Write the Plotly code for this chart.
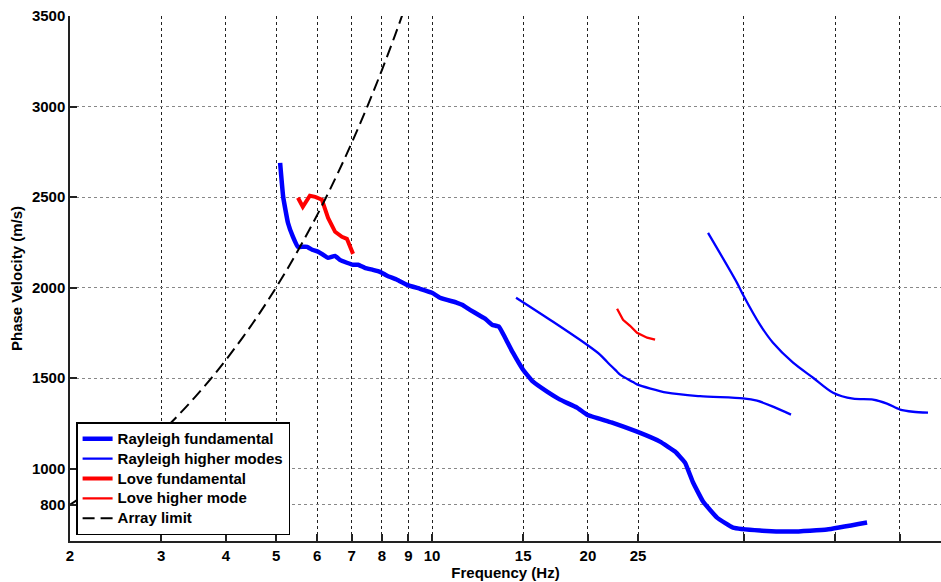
import plotly.graph_objects as go

# Rayleigh fundamental mode (Hz, m/s)
ray_fund_f = [5.09, 5.16, 5.27, 5.39, 5.51, 5.63, 5.74, 5.87, 6.03, 6.16, 6.30, 6.50,
              6.64, 6.85, 7.04, 7.20, 7.42, 7.69, 7.94, 8.19, 8.56, 8.95, 9.48, 10.0,
              10.36, 11.18, 11.43, 11.84, 12.38, 12.66, 13.06, 13.47, 13.84, 14.33,
              14.99, 15.67, 16.68, 17.67, 19.05, 19.92, 22.20, 24.88, 27.56, 29.46,
              30.80, 31.92, 33.37, 35.51, 38.13, 42.98, 49.79, 57.90, 69.19]
ray_fund_v = [2689, 2501, 2358, 2280, 2225, 2225, 2225, 2209, 2198, 2181, 2164, 2175,
              2153, 2137, 2126, 2126, 2109, 2098, 2087, 2065, 2043, 2015, 1993, 1971,
              1944, 1916, 1905, 1877, 1844, 1828, 1795, 1784, 1723, 1640,
              1546, 1480, 1425, 1381, 1337, 1298, 1255, 1204, 1149, 1094,
              1033, 923, 818, 729, 674, 658, 652, 663, 702]

# Rayleigh higher modes (two branches, separated by None)
ray_high_f = [14.53, 17.13, 19.92, 21.10, 21.77, 22.77, 23.07, 24.44, 24.88, 28.43,
              32.92, 39.86, 42.42, 45.54, 49.34, None,
              34.12, 38.81, 39.86, 42.98, 45.54, 49.79, 54.42, 59.48, 65.02, 71.07,
              75.59, 80.11, 84.88, 90.73]
ray_high_v = [1944, 1811, 1684, 1630, 1590, 1535, 1519, 1478, 1465, 1419,
              1400, 1388, 1375, 1342, 1298, None,
              2302, 2026, 1960, 1795, 1695, 1585, 1502, 1419, 1386, 1381,
              1359, 1326, 1314, 1309]

# Love fundamental mode
love_fund_f = [5.51, 5.63, 5.81, 5.95, 6.13, 6.30, 6.50, 6.70, 6.85, 7.04]
love_fund_v = [2496, 2446, 2507, 2501, 2485, 2385, 2308, 2280, 2269, 2186]

# Love higher mode
love_high_f = [22.77, 23.38, 24.12, 24.88, 26.02, 26.96]
love_high_v = [1883, 1822, 1789, 1750, 1723, 1712]

# Array resolution limit (wavelength 400 m)
limit_f = [2.0, 2.25, 2.5, 2.75, 3.0, 3.25, 3.5, 3.75, 4.0, 4.5, 5.0, 5.5, 6.0,
           6.5, 7.0, 7.5, 8.0, 8.5, 9.0]
limit_v = [800, 900, 1000, 1100, 1200, 1300, 1400, 1500, 1600, 1800, 2000, 2200, 2400,
           2600, 2800, 3000, 3200, 3400, 3600]

x_ticks = [2, 3, 4, 5, 6, 7, 8, 9, 10, 15, 20, 25, 40, 60, 80]
x_tick_text = ["2", "3", "4", "5", "6", "7", "8", "9", "10", "15", "20", "25", "", "", ""]
y_ticks = [800, 1000, 1500, 2000, 2500, 3000, 3500]


def bold(s):
    return f"<b>{s}</b>" if s else ""


def legend_label(s):
    # larger bold text inside a compact legend row
    return f'<span style="font-size:15px"><b>{s}</b></span>'


BLUE = "#0000FF"
RED = "#FF0000"
FONT = "Liberation Sans, Arial, sans-serif"

fig = go.Figure()
fig.add_trace(go.Scatter(x=ray_fund_f, y=ray_fund_v, mode="lines",
                         line=dict(color=BLUE, width=4.5, shape="spline", smoothing=0.3),
                         name=legend_label("Rayleigh fundamental")))
fig.add_trace(go.Scatter(x=ray_high_f, y=ray_high_v, mode="lines",
                         line=dict(color=BLUE, width=2.3, shape="spline", smoothing=0.8),
                         name=legend_label("Rayleigh higher modes"), connectgaps=False))
fig.add_trace(go.Scatter(x=love_fund_f, y=love_fund_v, mode="lines",
                         line=dict(color=RED, width=4), name=legend_label("Love fundamental")))
fig.add_trace(go.Scatter(x=love_high_f, y=love_high_v, mode="lines",
                         line=dict(color=RED, width=2.3), name=legend_label("Love higher mode")))
fig.add_trace(go.Scatter(x=limit_f, y=limit_v, mode="lines",
                         line=dict(color="black", width=2, dash="12px,6px", shape="spline"),
                         name=legend_label("Array limit")))

fig.update_layout(
    width=941, height=582,
    margin=dict(l=70, r=0, t=16, b=41),
    paper_bgcolor="white", plot_bgcolor="white",
    font=dict(family=FONT, size=15, color="black"),
    showlegend=True,
    legend=dict(x=0.007, y=0.011, xanchor="left", yanchor="bottom",
                bgcolor="white", bordercolor="black", borderwidth=1.5,
                font=dict(family=FONT, size=13, color="black"),
                tracegroupgap=0, itemwidth=30),
)
fig.update_xaxes(
    type="log", range=[0.30103, 1.9828],
    tickvals=x_ticks, ticktext=[bold(t) for t in x_tick_text],
    ticks="inside", ticklen=7, tickwidth=1.5, tickcolor="#222",
    showline=True, linecolor="#222", linewidth=1.5, mirror=False,
    showgrid=True, gridcolor="#222", griddash="dot", gridwidth=1,
    zeroline=False,
    title=dict(text=bold("Frequency (Hz)"), standoff=0,
               font=dict(family=FONT, size=15)),
    tickfont=dict(family=FONT, size=15),
)
fig.update_yaxes(
    range=[600, 3500],
    tickvals=y_ticks, ticktext=[bold(str(t)) for t in y_ticks],
    ticks="inside", ticklen=7, tickwidth=1.5, tickcolor="#222",
    showline=True, linecolor="#222", linewidth=1.5, mirror=False,
    showgrid=True, gridcolor="#888", griddash="dot", gridwidth=1,
    zeroline=False,
    title=dict(text=bold("Phase Velocity (m/s)"), standoff=6,
               font=dict(family=FONT, size=15)),
    tickfont=dict(family=FONT, size=15),
)

fig.write_html("out.html")
